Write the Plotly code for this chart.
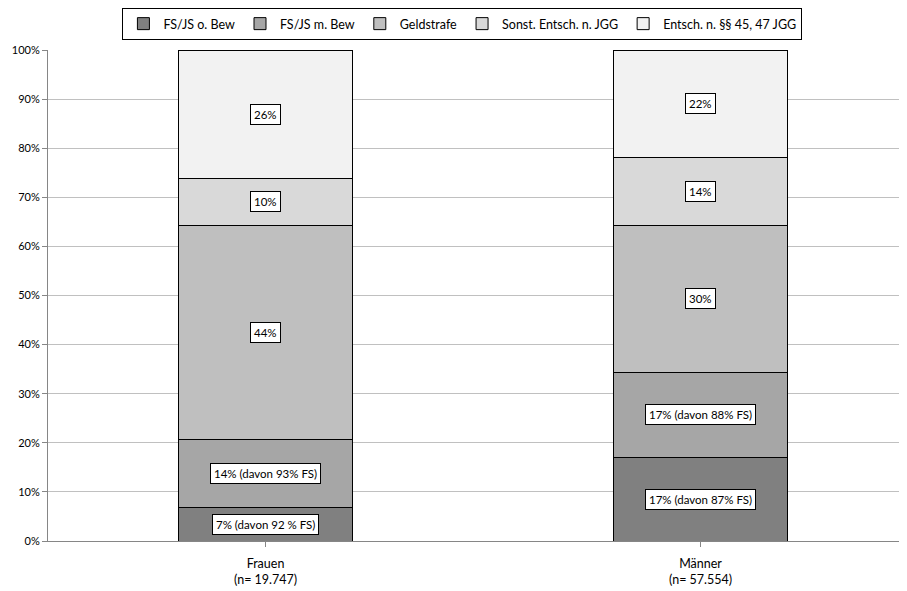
import plotly.graph_objects as go

categories = ["Frauen<br>(n= 19.747)", "Männer<br>(n= 57.554)"]
series_names = ["FS/JS o. Bew", "FS/JS m. Bew", "Geldstrafe", "Sonst. Entsch. n. JGG", "Entsch. n. §§ 45, 47 JGG"]
frauen = [6.9, 13.7, 43.6, 9.7, 26.1]
maenner = [17.1, 17.3, 29.8, 14.0, 21.8]
labels_frauen = ["7% (davon 92 % FS)", "14% (davon 93% FS)", "44%", "10%", "26%"]
labels_maenner = ["17% (davon 87% FS)", "17% (davon 88% FS)", "30%", "14%", "22%"]
y_ticks = list(range(0, 101, 10))
y_tick_labels = [f"{v}%" for v in y_ticks]
colors = ["#808080", "#a6a6a6", "#bfbfbf", "#d9d9d9", "#f2f2f2"]

FONT = "Lato, Open Sans, sans-serif"

fig = go.Figure()
for i, name in enumerate(series_names):
    fig.add_trace(go.Bar(
        x=[0, 1], y=[frauen[i], maenner[i]], name=name,
        marker=dict(color=colors[i], line=dict(color="#000000", width=1)),
        width=0.4,
    ))

annotations = []
for xi, vals, labs in [(0, frauen, labels_frauen), (1, maenner, labels_maenner)]:
    cum = 0
    for v, lab in zip(vals, labs):
        annotations.append(dict(
            x=xi, y=cum + v / 2, text=lab, showarrow=False, xref="x", yref="y",
            bgcolor="#ffffff", bordercolor="#000000", borderwidth=1, borderpad=3,
            font=dict(family=FONT, size=11.5, color="#000000"),
        ))
        cum += v

fig.update_layout(
    barmode="stack",
    width=907, height=591,
    margin=dict(l=40, r=0, t=42, b=58, autoexpand=False),
    paper_bgcolor="#ffffff", plot_bgcolor="#ffffff",
    font=dict(family=FONT, size=12, color="#000000"),
    annotations=annotations,
    showlegend=True,
    legend=dict(
        orientation="h", xref="container", x=0.501, xanchor="center",
        yref="container", y=1.0, yanchor="top",
        bordercolor="#000000", borderwidth=1, bgcolor="#ffffff",
        font=dict(family=FONT, size=12.5), traceorder="normal",
        itemwidth=30, tracegroupgap=0,
    ),
    xaxis=dict(
        tickmode="array", tickvals=[0, 1], ticktext=categories,
        range=[-0.5, 1.493], showline=True, linecolor="#868686", linewidth=1,
        ticks="outside", tickson="boundaries", ticklen=5, tickcolor="#868686",
        showgrid=False, zeroline=False, tickfont=dict(size=12.5), automargin=False,
        ticklabelstandoff=6,
    ),
    yaxis=dict(
        range=[0, 100], tickmode="array", tickvals=y_ticks, ticktext=y_tick_labels,
        showline=True, linecolor="#868686", linewidth=1,
        ticks="outside", ticklen=5, tickcolor="#868686",
        showgrid=True, gridcolor="#c0c0c0", gridwidth=1, zeroline=False,
        tickfont=dict(size=11), automargin=False,
    ),
)

fig.write_html("out.html")
